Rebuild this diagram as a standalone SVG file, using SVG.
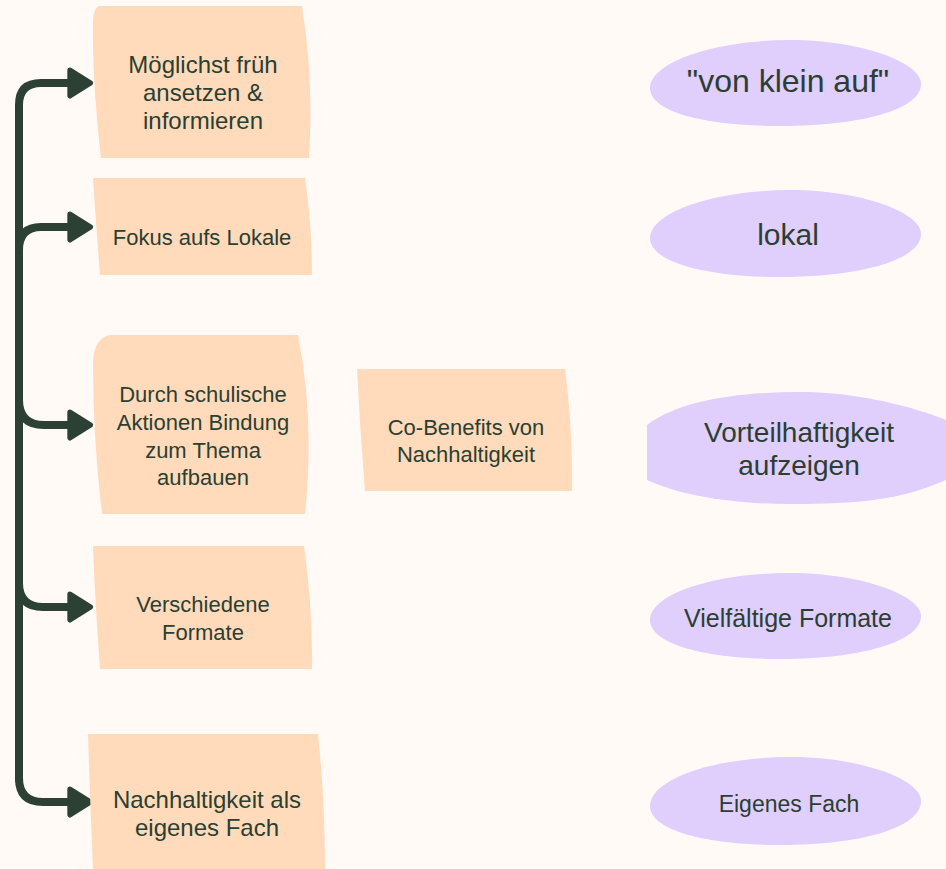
<svg xmlns="http://www.w3.org/2000/svg" width="946" height="869" viewBox="0 0 946 869">
<defs>
<style>
.box{fill:#ffdbbc}
.pill{fill:#e0cefd}
.t{font-family:"Liberation Sans",Arial,sans-serif;fill:#2a3f31;text-anchor:middle}
.conn{fill:none;stroke:#2c4133;stroke-width:8;stroke-linecap:round;stroke-linejoin:round}
</style>
<marker id="ah" markerUnits="userSpaceOnUse" markerWidth="30" markerHeight="36" viewBox="0 0 28 32" refX="4" refY="16" orient="auto">
<path d="M4,4 L23,16 L4,28 Z" fill="#2c4133" stroke="#2c4133" stroke-width="5" stroke-linejoin="round"/>
</marker>
</defs>
<rect width="946" height="869" fill="#fffaf6"/>
<g id="connectors">
<path class="conn" d="M19,780 L19,105 Q19,83 41,83 L70,83" marker-end="url(#ah)"/>
<path class="conn" d="M19,250 Q19,227 41,227 L70,227" marker-end="url(#ah)"/>
<path class="conn" d="M19,400 Q19,425 44,425 L70,425" marker-end="url(#ah)"/>
<path class="conn" d="M19,583 Q19,607 43,607 L70,607" marker-end="url(#ah)"/>
<path class="conn" d="M19,778 Q19,802 43,802 L70,802" marker-end="url(#ah)"/>
</g>
<g id="n1">
<path class="box" d="M99,6 L302,6 Q314,80 309,158 L101,158 Q92,80 93,20 Q94,8 99,6 Z"/>
<text class="t" font-size="24"><tspan x="203" y="73">Möglichst früh</tspan><tspan x="203" y="101">ansetzen &amp;</tspan><tspan x="203" y="129">informieren</tspan></text>
</g>
<g id="n2">
<path class="box" d="M93,178 L305,178 Q312,225 312,275 L100,275 Q96,225 93,178 Z"/>
<text class="t" font-size="22" x="202" y="245">Fokus aufs Lokale</text>
</g>
<g id="n3">
<path class="box" d="M110,335 L298,335 Q315,420 305,514 L102,514 Q93,440 93,362 Q94,338 110,335 Z"/>
<text class="t" font-size="22"><tspan x="203" y="402">Durch schulische</tspan><tspan x="203" y="430">Aktionen Bindung</tspan><tspan x="203" y="458">zum Thema</tspan><tspan x="203" y="485">aufbauen</tspan></text>
</g>
<g id="n4">
<path class="box" d="M93,546 L304,546 Q313,610 312,669 L100,669 Q95,600 93,546 Z"/>
<text class="t" font-size="22"><tspan x="203" y="612">Verschiedene</tspan><tspan x="203" y="640">Formate</tspan></text>
</g>
<g id="n5">
<path class="box" d="M88,734 L318,734 Q325,800 325,869 L93,869 Q90,800 88,734 Z"/>
<text class="t" font-size="24"><tspan x="207" y="808">Nachhaltigkeit als</tspan><tspan x="207" y="836">eigenes Fach</tspan></text>
</g>
<g id="n6">
<path class="box" d="M357,369 L565,369 Q573,430 572,491 L365,491 Q360,430 357,369 Z"/>
<text class="t" font-size="22"><tspan x="466" y="435">Co-Benefits von</tspan><tspan x="466" y="462">Nachhaltigkeit</tspan></text>
</g>
<g id="e1">
<path class="pill" d="M650,88 C650,62 715,40 790,40 C860,40 921,62 921,84 C921,110 860,126 780,126 C705,126 650,112 650,88 Z"/>
<text class="t" font-size="32" x="788" y="92">"von klein auf"</text>
</g>
<g id="e2">
<path class="pill" d="M650,238 C650,212 715,190 790,190 C860,190 921,212 921,234 C921,260 860,277 780,277 C705,277 650,262 650,238 Z"/>
<text class="t" font-size="30" x="788" y="245">lokal</text>
</g>
<g id="e3">
<path class="pill" d="M647,425 C680,400 740,392 800,392 C880,392 946,420 946,420 L946,480 C900,500 860,504 790,504 C730,504 680,495 647,480 Z"/>
<text class="t" font-size="28"><tspan x="799" y="442">Vorteilhaftigkeit</tspan><tspan x="799" y="475">aufzeigen</tspan></text>
</g>
<g id="e4">
<path class="pill" d="M650,620 C650,594 715,573 790,573 C860,573 921,595 921,616 C921,642 860,659 780,659 C705,659 650,644 650,620 Z"/>
<text class="t" font-size="25" x="788" y="627">Vielfältige Formate</text>
</g>
<g id="e5">
<path class="pill" d="M650,806 C650,779 715,757 790,757 C860,757 921,779 921,801 C921,828 860,845 780,845 C705,845 650,830 650,806 Z"/>
<text class="t" font-size="23" x="789" y="812">Eigenes Fach</text>
</g>
</svg>
